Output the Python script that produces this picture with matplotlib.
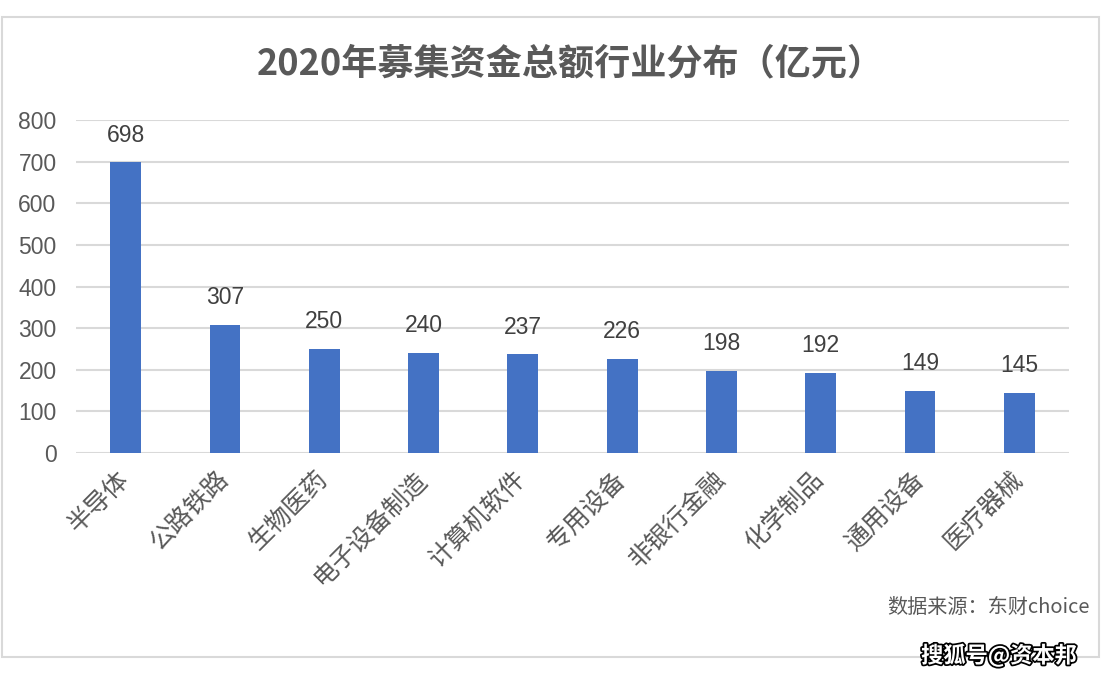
import matplotlib.pyplot as plt
import matplotlib.patheffects as pe
from matplotlib.patches import Rectangle

plt.rcParams['font.family'] = ['Noto Sans CJK SC', 'DejaVu Sans']

# 業種と募集資金総額（億元）
industries = ["半导体", "公路铁路", "生物医药", "电子设备制造", "计算机软件",
              "专用设备", "非银行金融", "化学制品", "通用设备", "医疗器械"]
amounts = [698, 307, 250, 240, 237, 226, 198, 192, 149, 145]
yticks = [0, 100, 200, 300, 400, 500, 600, 700, 800]

fig = plt.figure(figsize=(11.02, 6.80), dpi=100)

# 外枠
fig.patches.append(Rectangle((2 / 1102, 23 / 680), 1097 / 1102, 640 / 680,
                             transform=fig.transFigure, fill=False,
                             edgecolor="#d9d9d9", linewidth=1.5))

ax = fig.add_axes([76 / 1102, 227 / 680, 993 / 1102, 333 / 680])
x = range(len(industries))
bars = ax.bar(x, amounts, width=0.31, color="#4472C4", zorder=3)

for b, v in zip(bars, amounts):
    ax.text(b.get_x() + b.get_width() / 2, v + 38, str(v), ha="center", va="bottom",
            fontsize=16.5, color="#404040", family="Liberation Sans")

ax.set_xlim(-0.5, len(industries) - 0.5)
ax.set_ylim(0, 800)
ax.set_yticks(yticks)
ax.set_yticklabels([str(t) for t in yticks], family="Liberation Sans")
ax.yaxis.grid(True, color="#d9d9d9", linewidth=1.5, zorder=0)
for s in ax.spines.values():
    s.set_visible(False)
ax.tick_params(axis="both", length=0, labelsize=16.5, labelcolor="#595959")
ax.tick_params(axis="y", pad=14)
ax.tick_params(axis="x", pad=16)
ax.set_xticks(list(x))
ax.set_xticklabels(industries, rotation=45, ha="right", va="center",
                   rotation_mode="anchor", fontsize=18)

fig.text(570 / 1102, 1 - 64 / 680, "2020年募集资金总额行业分布（亿元）", ha="center", va="center",
         fontsize=26, fontweight="bold", color="#595959")

fig.text(1090 / 1102, 1 - 607 / 680, "数据来源：东财choice", ha="right", va="center",
         fontsize=14.5, color="#595959")

fig.text(1077 / 1102, 1 - 656 / 680, "搜狐号@资本邦", ha="right", va="center",
         fontsize=16, fontweight="bold", color="white",
         path_effects=[pe.withStroke(linewidth=2.5, foreground="black")])

fig.savefig("out.png", dpi=100)
